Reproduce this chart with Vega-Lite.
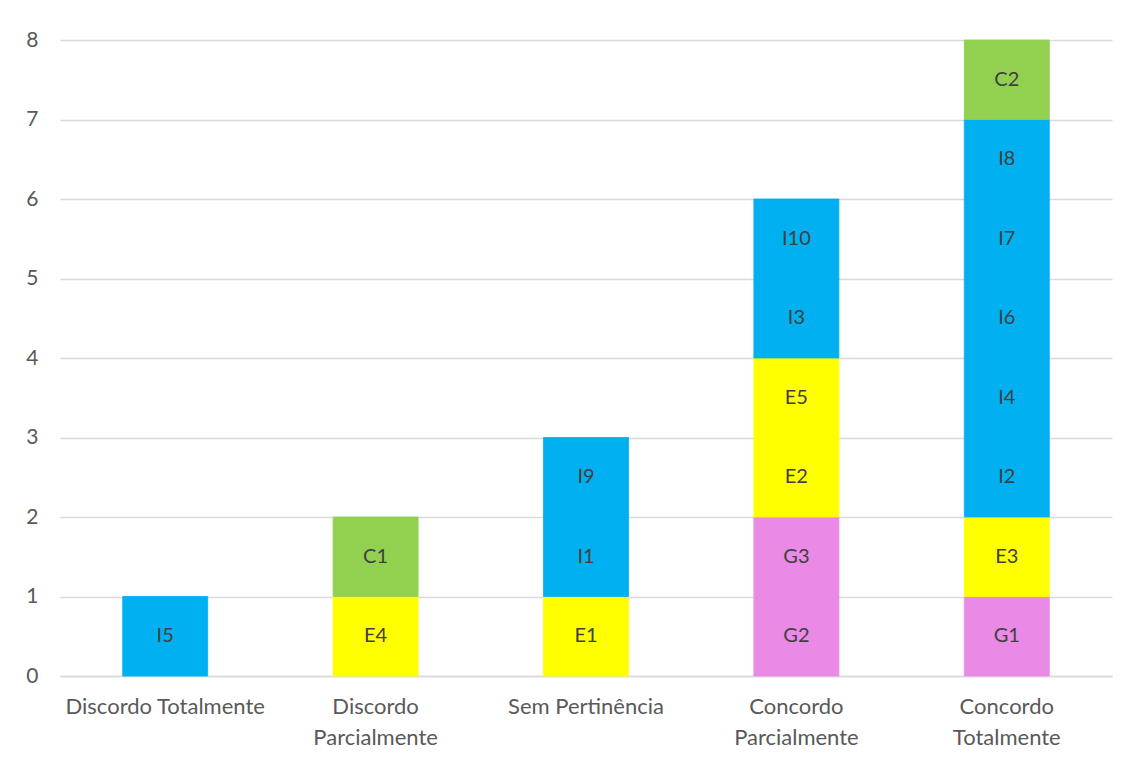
{
  "$schema": "https://vega.github.io/schema/vega-lite/v6.json",
  "width": 1052,
  "height": 636,
  "autosize": {"type": "none"},
  "padding": {"left": 60, "top": 40, "right": 26, "bottom": 84},
  "background": "white",
  "config": {
    "view": {"stroke": null},
    "font": "Lato",
    "axis": {"labelFont": "Lato", "labelColor": "#595959", "labelFontSize": 21, "gridColor": "#D9D9D9", "gridWidth": 1.5, "domainColor": "#D9D9D9", "domainWidth": 1.5}
  },
  "data": {
    "values": [
      {"categoria": "Discordo Totalmente", "item": "I5", "grupo": "I", "ordem": 1, "valor": 1},
      {"categoria": "Discordo Parcialmente", "item": "E4", "grupo": "E", "ordem": 1, "valor": 1},
      {"categoria": "Discordo Parcialmente", "item": "C1", "grupo": "C", "ordem": 2, "valor": 1},
      {"categoria": "Sem Pertinência", "item": "E1", "grupo": "E", "ordem": 1, "valor": 1},
      {"categoria": "Sem Pertinência", "item": "I1", "grupo": "I", "ordem": 2, "valor": 1},
      {"categoria": "Sem Pertinência", "item": "I9", "grupo": "I", "ordem": 3, "valor": 1},
      {"categoria": "Concordo Parcialmente", "item": "G2", "grupo": "G", "ordem": 1, "valor": 1},
      {"categoria": "Concordo Parcialmente", "item": "G3", "grupo": "G", "ordem": 2, "valor": 1},
      {"categoria": "Concordo Parcialmente", "item": "E2", "grupo": "E", "ordem": 3, "valor": 1},
      {"categoria": "Concordo Parcialmente", "item": "E5", "grupo": "E", "ordem": 4, "valor": 1},
      {"categoria": "Concordo Parcialmente", "item": "I3", "grupo": "I", "ordem": 5, "valor": 1},
      {"categoria": "Concordo Parcialmente", "item": "I10", "grupo": "I", "ordem": 6, "valor": 1},
      {"categoria": "Concordo Totalmente", "item": "G1", "grupo": "G", "ordem": 1, "valor": 1},
      {"categoria": "Concordo Totalmente", "item": "E3", "grupo": "E", "ordem": 2, "valor": 1},
      {"categoria": "Concordo Totalmente", "item": "I2", "grupo": "I", "ordem": 3, "valor": 1},
      {"categoria": "Concordo Totalmente", "item": "I4", "grupo": "I", "ordem": 4, "valor": 1},
      {"categoria": "Concordo Totalmente", "item": "I6", "grupo": "I", "ordem": 5, "valor": 1},
      {"categoria": "Concordo Totalmente", "item": "I7", "grupo": "I", "ordem": 6, "valor": 1},
      {"categoria": "Concordo Totalmente", "item": "I8", "grupo": "I", "ordem": 7, "valor": 1},
      {"categoria": "Concordo Totalmente", "item": "C2", "grupo": "C", "ordem": 8, "valor": 1}
    ]
  },
  "encoding": {
    "x": {
      "field": "categoria", "type": "nominal",
      "sort": ["Discordo Totalmente", "Discordo Parcialmente", "Sem Pertinência", "Concordo Parcialmente", "Concordo Totalmente"],
      "scale": {"paddingInner": 0.596, "paddingOuter": 0.298},
      "axis": {"title": null, "labelAngle": 0, "ticks": false, "labelPadding": 20, "labelLineHeight": 31, "labelBaseline": "top", "labelFontSize": 22, "labelLimit": 0,
        "labelExpr": "indexof(['Discordo Totalmente','Sem Pertinência'], datum.value) >= 0 ? datum.value : split(datum.value, ' ')"}
    },
    "y": {
      "field": "valor", "type": "quantitative", "stack": "zero",
      "scale": {"domain": [0, 8], "nice": false},
      "axis": {"title": null, "values": [0,1,2,3,4,5,6,7,8], "labelOverlap": false, "labelFlush": false, "ticks": false, "domain": false, "grid": true, "labelPadding": 22}
    },
    "order": {"field": "ordem", "type": "quantitative"}
  },
  "layer": [
    {
      "mark": {"type": "bar", "strokeWidth": 0.8},
      "encoding": {
        "color": {
          "field": "grupo", "type": "nominal",
          "scale": {"domain": ["G", "E", "I", "C"], "range": ["#EB89E6", "#FFFF00", "#00B0F0", "#92D050"]},
          "legend": null
        },
        "stroke": {
          "field": "grupo", "type": "nominal",
          "scale": {"domain": ["G", "E", "I", "C"], "range": ["#EB89E6", "#FFFF00", "#00B0F0", "#92D050"]},
          "legend": null
        }
      }
    },
    {
      "mark": {"type": "text", "baseline": "middle", "dy": 39.75, "fontSize": 20, "font": "Lato", "color": "#404040"},
      "encoding": {"text": {"field": "item"}}
    }
  ]
}
